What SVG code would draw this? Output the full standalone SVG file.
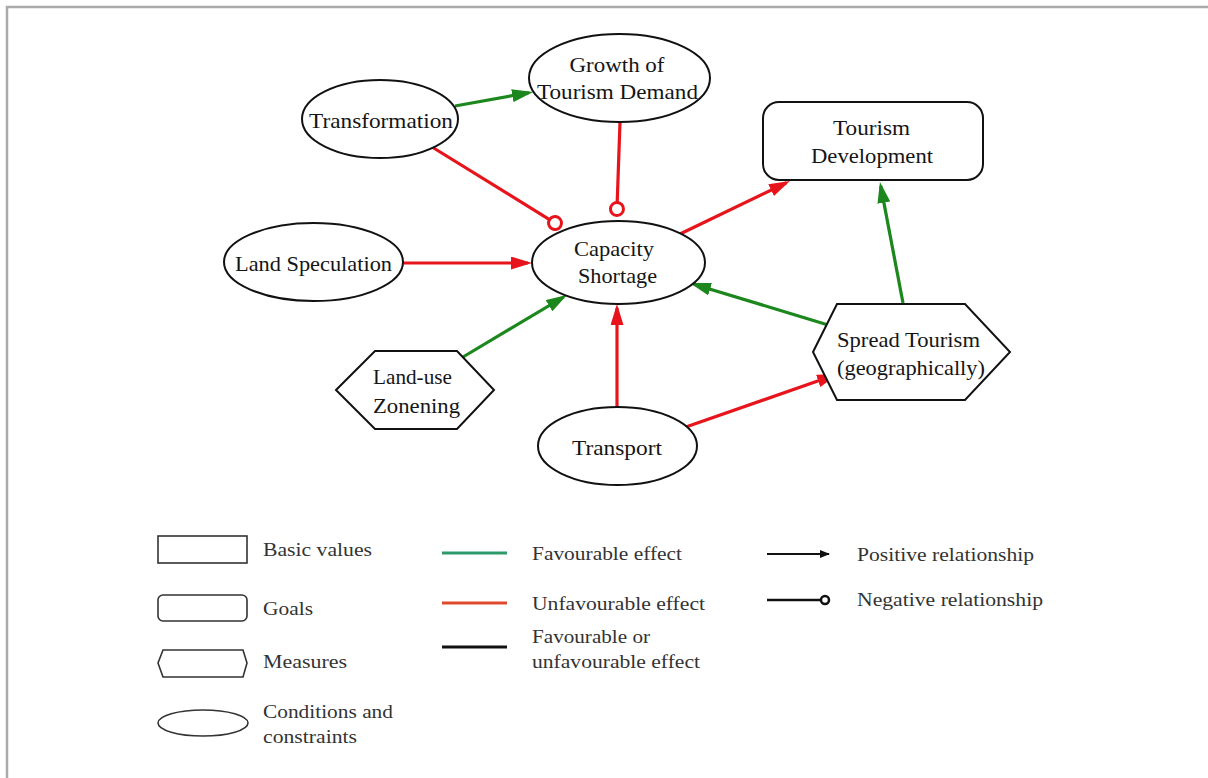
<svg xmlns="http://www.w3.org/2000/svg" width="1208" height="778" viewBox="0 0 1208 778">
<style>
.nd{fill:#fff;stroke:#111;stroke-width:2}
.lg{fill:#fff;stroke:#333;stroke-width:1.6}
.t{font-family:"Liberation Serif","Times New Roman",serif;font-size:21px;fill:#151515;text-anchor:middle}
.l{font-family:"Liberation Serif","Times New Roman",serif;font-size:19.5px;fill:#333}
.r{stroke:#e8141c;stroke-width:3.2;fill:none}
.g{stroke:#1c871c;stroke-width:3.2;fill:none}
</style>
<defs>
<marker id="ar" viewBox="0 0 21 13" refX="17" refY="6.5" markerWidth="21" markerHeight="13" markerUnits="userSpaceOnUse" orient="auto"><path d="M0,0 L21,6.5 L0,13 z" fill="#e8141c"/></marker>
<marker id="ag" viewBox="0 0 21 13" refX="17" refY="6.5" markerWidth="21" markerHeight="13" markerUnits="userSpaceOnUse" orient="auto"><path d="M0,0 L21,6.5 L0,13 z" fill="#1c871c"/></marker>
<marker id="cr" viewBox="0 0 18 18" refX="2.5" refY="9" markerWidth="18" markerHeight="18" markerUnits="userSpaceOnUse" orient="auto"><circle cx="9" cy="9" r="6.5" fill="#fff" stroke="#e8141c" stroke-width="3"/></marker>
<marker id="ak" viewBox="0 0 10 8" refX="9" refY="4" markerWidth="10" markerHeight="8" markerUnits="userSpaceOnUse" orient="auto"><path d="M0,0 L10,4 L0,8 z" fill="#111"/></marker>
<marker id="ck" viewBox="0 0 12 12" refX="1.5" refY="6" markerWidth="12" markerHeight="12" markerUnits="userSpaceOnUse" orient="auto"><circle cx="6" cy="6" r="4" fill="#fff" stroke="#111" stroke-width="2.5"/></marker>
</defs>
<rect x="0" y="0" width="1208" height="778" fill="#fff"/>
<rect x="7" y="7" width="1230" height="800" fill="none" stroke="#aaa" stroke-width="2.5"/>

<g id="connectors">
<line class="g" x1="455" y1="106" x2="529.1" y2="92.7" marker-end="url(#ag)"/>
<line class="r" x1="432" y1="147" x2="549.5" y2="219.6" marker-end="url(#cr)"/>
<line class="r" x1="620" y1="122" x2="617.2" y2="202.5" marker-end="url(#cr)"/>
<line class="r" x1="403" y1="263" x2="528" y2="263" marker-end="url(#ar)"/>
<line class="g" x1="463" y1="357" x2="563.6" y2="297" marker-end="url(#ag)"/>
<line class="r" x1="617" y1="407" x2="617" y2="308" marker-end="url(#ar)"/>
<line class="r" x1="680" y1="234" x2="786.4" y2="182.7" marker-end="url(#ar)"/>
<line class="g" x1="903" y1="303" x2="880.7" y2="185.9" marker-end="url(#ag)"/>
<line class="g" x1="838" y1="328" x2="693.8" y2="284.2" marker-end="url(#ag)"/>
<line class="r" x1="683" y1="428" x2="834.2" y2="375.3" marker-end="url(#ar)"/>
</g>

<g id="transformation">
<ellipse class="nd" cx="380" cy="119" rx="78" ry="39"/>
<text class="t" x="381" y="128" textLength="144" lengthAdjust="spacingAndGlyphs">Transformation</text>
</g>
<g id="growth">
<ellipse class="nd" cx="619.5" cy="78" rx="90.5" ry="44"/>
<text class="t" x="617" y="72" textLength="95" lengthAdjust="spacingAndGlyphs">Growth of</text>
<text class="t" x="617.5" y="99" textLength="161" lengthAdjust="spacingAndGlyphs">Tourism Demand</text>
</g>
<g id="tourism-development">
<rect class="nd" x="763" y="102" width="220" height="78" rx="16"/>
<text class="t" x="871.5" y="135" textLength="77" lengthAdjust="spacingAndGlyphs">Tourism</text>
<text class="t" x="872" y="163" textLength="122" lengthAdjust="spacingAndGlyphs">Development</text>
</g>
<g id="capacity-shortage">
<ellipse class="nd" cx="618.5" cy="262.5" rx="86.5" ry="41.5"/>
<text class="t" x="614" y="256" textLength="80" lengthAdjust="spacingAndGlyphs">Capacity</text>
<text class="t" x="617.5" y="283" textLength="79" lengthAdjust="spacingAndGlyphs">Shortage</text>
</g>
<g id="land-speculation">
<ellipse class="nd" cx="313.5" cy="262" rx="89.5" ry="39"/>
<text class="t" x="313.5" y="271" textLength="157" lengthAdjust="spacingAndGlyphs">Land Speculation</text>
</g>
<g id="land-use-zonening">
<polygon class="nd" points="336,390 375,351 457,351 494,390 457,429 375,429"/>
<text class="t" x="412.5" y="384" textLength="79" lengthAdjust="spacingAndGlyphs">Land-use</text>
<text class="t" x="416.5" y="413" textLength="87" lengthAdjust="spacingAndGlyphs">Zonening</text>
</g>
<g id="transport">
<ellipse class="nd" cx="617.5" cy="446" rx="79.5" ry="39"/>
<text class="t" x="617" y="455" textLength="90" lengthAdjust="spacingAndGlyphs">Transport</text>
</g>
<g id="spread-tourism">
<polygon class="nd" points="813,352 837,304 965,304 1010,352 965,400 837,400"/>
<text class="t" x="908.5" y="347" textLength="143" lengthAdjust="spacingAndGlyphs">Spread Tourism</text>
<text class="t" x="911" y="375" textLength="148" lengthAdjust="spacingAndGlyphs">(geographically)</text>
</g>

<g id="legend">
<rect class="lg" x="158" y="536" width="89" height="27"/>
<text class="l" x="263" y="556" textLength="109" lengthAdjust="spacingAndGlyphs">Basic values</text>
<rect class="lg" x="158" y="595" width="89" height="26" rx="5"/>
<text class="l" x="263" y="615" textLength="50" lengthAdjust="spacingAndGlyphs">Goals</text>
<polygon class="lg" points="158,663 163,650 243,650 247,663 243,677 163,677"/>
<text class="l" x="263" y="668" textLength="84" lengthAdjust="spacingAndGlyphs">Measures</text>
<ellipse class="lg" cx="203" cy="723" rx="45" ry="13"/>
<text class="l" x="263" y="718" textLength="130" lengthAdjust="spacingAndGlyphs">Conditions and</text>
<text class="l" x="263" y="743" textLength="94" lengthAdjust="spacingAndGlyphs">constraints</text>

<line x1="442" y1="553" x2="507" y2="553" stroke="#2e9a6c" stroke-width="3"/>
<text class="l" x="532" y="560" textLength="150" lengthAdjust="spacingAndGlyphs">Favourable effect</text>
<line x1="442" y1="603" x2="507" y2="603" stroke="#e04a2c" stroke-width="3"/>
<text class="l" x="532" y="610" textLength="173" lengthAdjust="spacingAndGlyphs">Unfavourable effect</text>
<line x1="442" y1="647" x2="507" y2="647" stroke="#111" stroke-width="3"/>
<text class="l" x="532" y="643" textLength="118" lengthAdjust="spacingAndGlyphs">Favourable or</text>
<text class="l" x="532" y="668" textLength="168" lengthAdjust="spacingAndGlyphs">unfavourable effect</text>

<line x1="767" y1="554" x2="829" y2="554" stroke="#111" stroke-width="2" marker-end="url(#ak)"/>
<text class="l" x="857" y="561" textLength="177" lengthAdjust="spacingAndGlyphs">Positive relationship</text>
<line x1="767" y1="600" x2="820.5" y2="600" stroke="#111" stroke-width="2.5" marker-end="url(#ck)"/>
<text class="l" x="857" y="606" textLength="186" lengthAdjust="spacingAndGlyphs">Negative relationship</text>
</g>
</svg>
